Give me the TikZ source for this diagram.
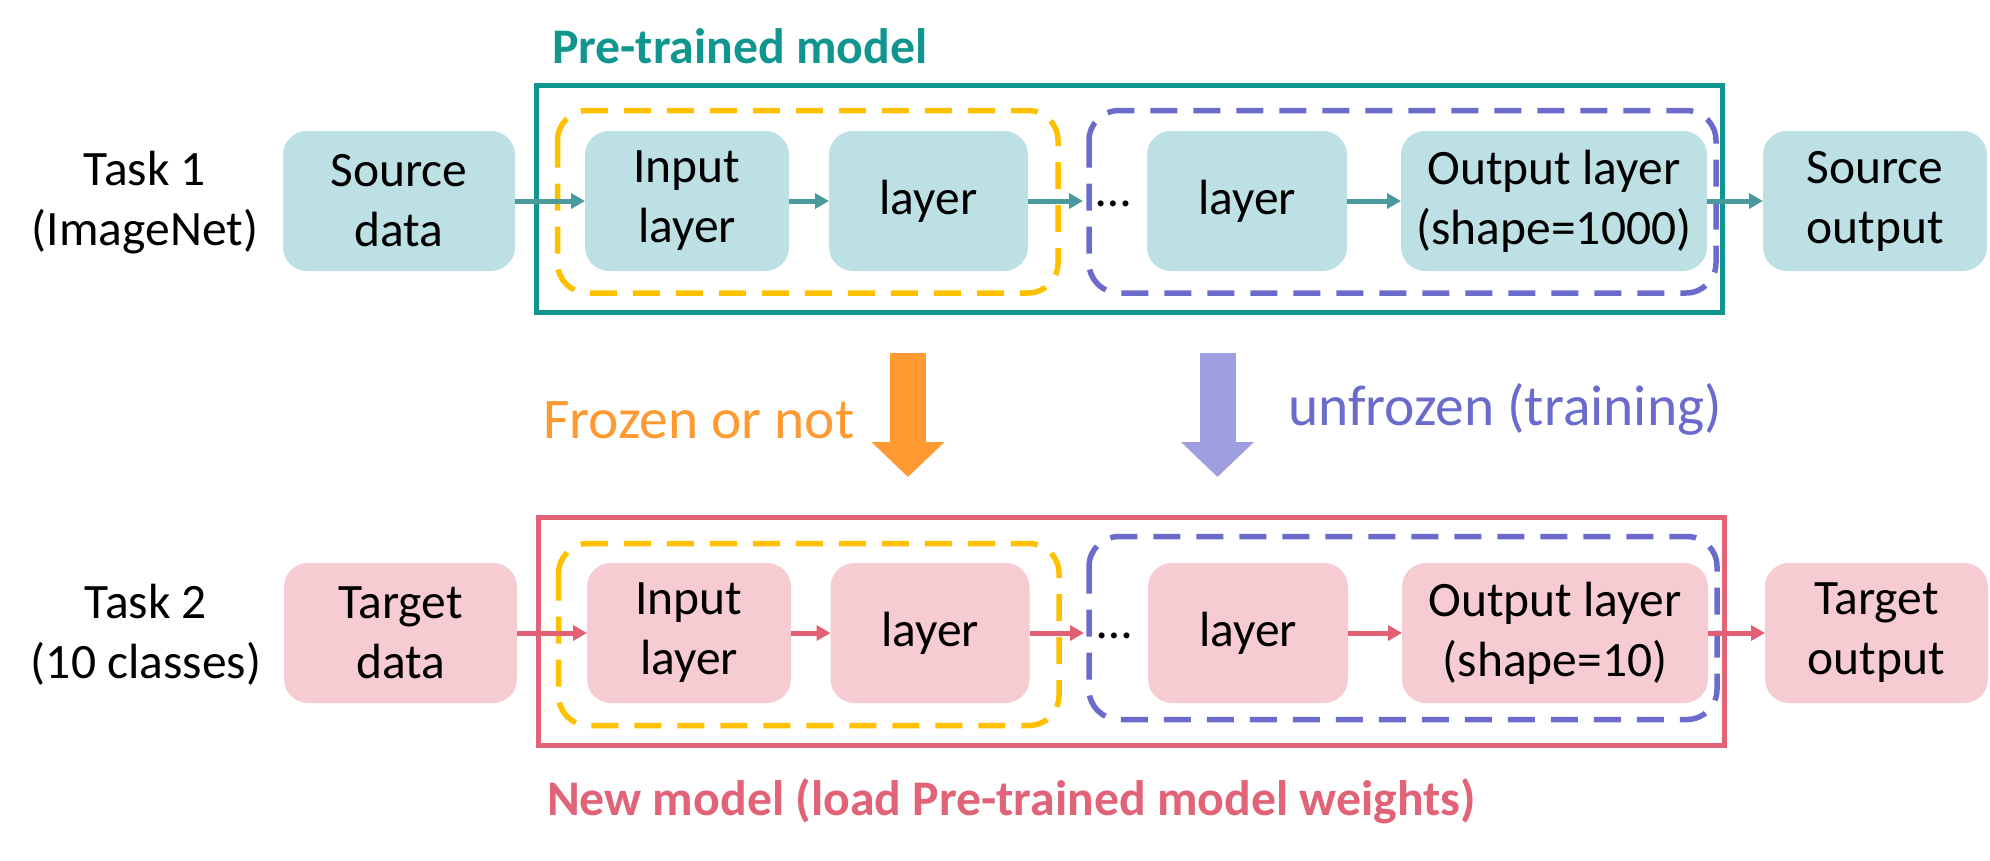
\documentclass[tikz,border=0pt]{standalone}
\usepackage{fontspec}
\setmainfont{Carlito}
\usetikzlibrary{arrows.meta}
\definecolor{tealframe}{HTML}{11968F}
\definecolor{tealfill}{HTML}{BCE0E4}
\definecolor{tealarrow}{HTML}{4A9A9D}
\definecolor{pinkframe}{HTML}{E06377}
\definecolor{pinkfill}{HTML}{F6CBD2}
\definecolor{pinkarrow}{HTML}{E35F74}
\definecolor{yellowdash}{HTML}{FFC000}
\definecolor{purpledash}{HTML}{6B6BCB}
\definecolor{orangearrow}{HTML}{FF9A33}
\definecolor{lavarrow}{HTML}{9E9EE0}
\tikzset{
  box/.style={rounded corners=24pt, minimum height=140pt, inner sep=0pt, outer sep=0pt,
    align=center, font=\fontsize{49.5}{60}\selectfont},
  tbox/.style={box, fill=tealfill},
  pbox/.style={box, fill=pinkfill},
  plainlabel/.style={inner sep=0pt, outer sep=0pt, align=center, font=\fontsize{49.5}{60}\selectfont},
  titlelabel/.style={inner sep=0pt, outer sep=0pt, anchor=base west, font=\fontsize{49.8}{60}\selectfont\bfseries},
  notelabel/.style={inner sep=0pt, outer sep=0pt, anchor=base west, font=\fontsize{57.5}{68}\selectfont},
  frameline/.style={line width=5pt},
  dashframe/.style={line width=5.5pt, rounded corners=30pt, dash pattern=on 27pt off 16pt},
  conn/.style={line width=5pt, -{Triangle[length=14pt,width=15pt]}},
  bigarrow/.style={line width=36pt, -{Triangle[length=35pt,width=71pt]}}
}
\begin{document}
\begin{tikzpicture}[x=1pt,y=-1pt]
\useasboundingbox (0,0) rectangle (1990,860);

% ---- top row ----
\draw[frameline, tealframe] (536,85.5) rectangle (1722,312.5);
\draw[dashframe, yellowdash] (557.5,110.5) rectangle (1058,293);
\draw[dashframe, purpledash] (1089,110.5) rectangle (1716,293);

\node[titlelabel, text=tealframe] (pt) at (552,63) {Pre-trained model};
\node[plainlabel] (task1) at (145,203) {Task 1\\(ImageNet)};

\node[tbox, minimum width=232pt] (src) at (399,201) {Source\\data};
\node[tbox, minimum width=204pt] (in1) at (687,201) {Input\\layer};
\node[tbox, minimum width=199pt] (l1) at (928.5,201) {layer};
\node[plainlabel, anchor=base] (d1) at (1114,206) {…};
\node[tbox, minimum width=200pt] (l2) at (1247,201) {layer};
\node[tbox, minimum width=306pt] (out1) at (1554,201) {Output layer\\(shape=1000)};
\node[tbox, minimum width=224pt] (so) at (1875,201) {Source\\output};
\coordinate (d1in) at (1083,201);

\draw[conn, tealarrow] (src) -- (in1);
\draw[conn, tealarrow] (in1) -- (l1);
\draw[conn, tealarrow] (l1) -- (d1in);
\draw[conn, tealarrow] (l2) -- (out1);
\draw[conn, tealarrow] (out1) -- (so);

% ---- middle ----
\coordinate (fa1) at (908,353);
\coordinate (fa2) at (908,477);
\coordinate (ua1) at (1217.5,353);
\coordinate (ua2) at (1217.5,477);
\draw[bigarrow, orangearrow] (fa1) -- (fa2);
\draw[bigarrow, lavarrow] (ua1) -- (ua2);
\node[notelabel, text=orangearrow] (fz) at (543,438) {Frozen or not};
\node[notelabel, text=purpledash] (uf) at (1288,425) {unfrozen (training)};

% ---- bottom row ----
\draw[frameline, pinkframe] (538,517.5) rectangle (1724.5,745.5);
\draw[dashframe, yellowdash] (558.5,543.5) rectangle (1059,725.5);
\draw[dashframe, purpledash] (1089,536.5) rectangle (1717,719.5);

\node[plainlabel] (task2) at (146,635) {Task 2\\(10 classes)};

\node[pbox, minimum width=233pt] (tgt) at (400.5,633) {Target\\data};
\node[pbox, minimum width=204pt] (in2) at (689,633) {Input\\layer};
\node[pbox, minimum width=199pt] (l3) at (930,633) {layer};
\node[plainlabel, anchor=base] (d2) at (1115,638) {…};
\node[pbox, minimum width=200pt] (l4) at (1248,633) {layer};
\node[pbox, minimum width=306pt] (out2) at (1555,633) {Output layer\\(shape=10)};
\node[pbox, minimum width=223pt] (to) at (1876.5,633) {Target\\output};
\coordinate (d2in) at (1084,633);

\draw[conn, pinkarrow] (tgt) -- (in2);
\draw[conn, pinkarrow] (in2) -- (l3);
\draw[conn, pinkarrow] (l3) -- (d2in);
\draw[conn, pinkarrow] (l4) -- (out2);
\draw[conn, pinkarrow] (out2) -- (to);

\node[titlelabel, text=pinkframe] (nm) at (547,815) {New model (load Pre-trained model weights)};
\end{tikzpicture}
\end{document}
